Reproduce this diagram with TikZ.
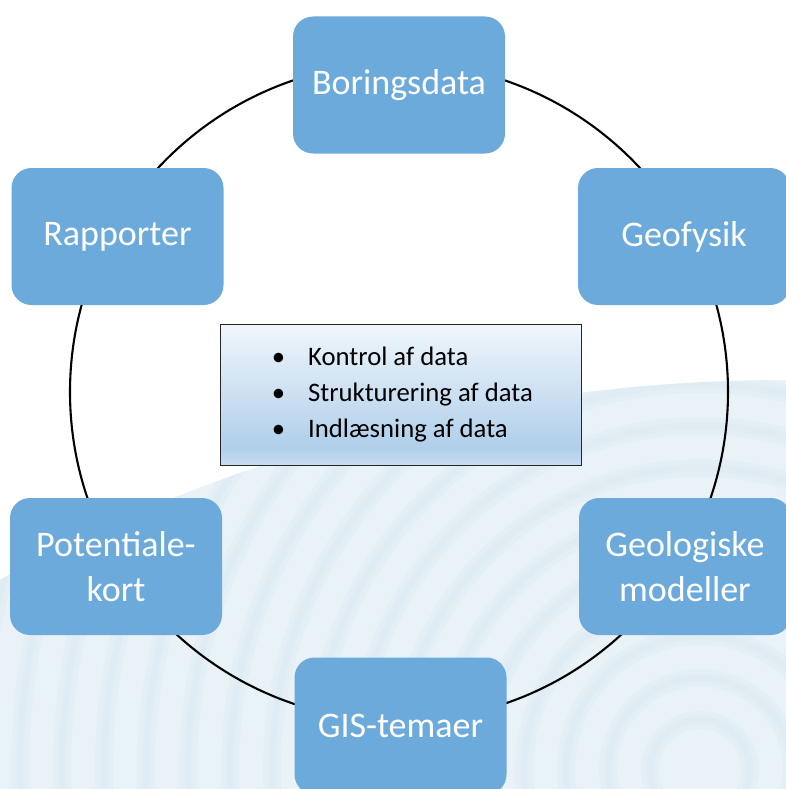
\documentclass[tikz,border=0pt]{standalone}
\usepackage{fontspec}
\setmainfont{Carlito}
\definecolor{boxblue}{RGB}{108,170,220}
\definecolor{swirl}{RGB}{233,242,247}
\definecolor{ring}{RGB}{200,222,234}
\definecolor{cbT}{RGB}{240,246,252}
\definecolor{cbM}{RGB}{176,207,234}
\definecolor{cbB}{RGB}{200,221,241}
\pgfdeclareverticalshading{cboxshade}{100bp}{color(0bp)=(cbB); color(25bp)=(cbB); color(31bp)=(cbM); color(75bp)=(cbT); color(100bp)=(cbT)}
\begin{document}
\begin{tikzpicture}[x=1pt,y=-1pt,
  stage/.style={fill=boxblue, rounded corners=20pt, minimum width=212pt, minimum height=137pt,
    text=white, font=\fontsize{36}{45}\selectfont, align=center, inner sep=0pt},
  ringwide/.style={draw=ring, line width=18pt, opacity=0.13},
  ringthin/.style={draw=ring, line width=7pt, opacity=0.15},
  bodytext/.style={font=\fontsize{26.7}{36}\selectfont, inner sep=0pt, text=black}]
\useasboundingbox (0,0) rectangle (786,789);
\begin{scope}
  \clip (0,0) rectangle (786,789);
  \fill[swirl] (786.5,2026) circle[radius=1646pt];
  \begin{scope}
    \clip (786.5,2026) circle[radius=1646pt];
    \foreach \r in {50,92,...,1100} {
      \draw[ringwide] (700,770) circle[radius=\r pt];
      \draw[ringthin] (700,770) circle[radius=\r pt];
    }
  \end{scope}
\end{scope}
\node[circle, draw=black, line width=2.1pt, minimum size=658pt, inner sep=0pt] (ring) at (399,392) {};
\begin{scope}
  \clip (0,0) rectangle (786,789);
  \node[stage] (bor) at (399,85) {Boringsdata};
  \node[stage] (geo) at (684,236.5) {Geofysik};
  \node[stage] (gm) at (685,566.5) {Geologiske\\modeller};
  \node[stage] (gis) at (400.5,726) {GIS-temaer};
  \node[stage] (pot) at (116,566.5) {Potentiale-\\kort};
  \node[stage] (rap) at (117.5,236.5) {Rapporter};
\end{scope}
\node[draw=black!85, line width=0.9pt, shading=cboxshade, minimum width=361pt, minimum height=141pt, inner sep=0pt] (tasks) at (400.5,394.5) {};
\foreach \i/\t/\y in {1/Kontrol af data/365, 2/Strukturering af data/401, 3/Indlæsning af data/437} {
  \node[bodytext, anchor=base west] (t\i) at (308,\y) {\t};
  \node[bodytext, anchor=base] (b\i) at (278.5,\y) {•};
}
\end{tikzpicture}
\end{document}
